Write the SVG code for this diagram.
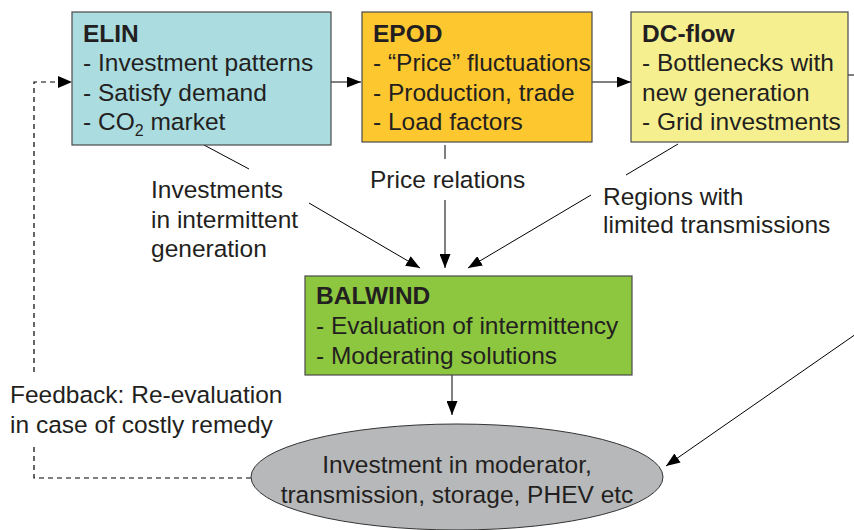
<svg xmlns="http://www.w3.org/2000/svg" width="854" height="530" viewBox="0 0 854 530">
<defs>
<marker id="ah" markerUnits="userSpaceOnUse" markerWidth="14" markerHeight="11" refX="14" refY="5.5" orient="auto">
<path d="M0,0 L14,5.5 L0,11 z" fill="#000"/>
</marker>
<style>
text{font-family:"Liberation Sans",Arial,sans-serif;font-size:24.5px;fill:#231f20}
.b{font-weight:bold}
.box{stroke:#4a4a4a;stroke-width:1.2}
.c{fill:none;stroke:#000;stroke-width:1}
.d{fill:none;stroke:#000;stroke-width:1.2;stroke-dasharray:5 4}
</style>
</defs>
<rect width="854" height="530" fill="#fff"/>
<g id="connectors">
<path class="c" d="M331,82 H361" marker-end="url(#ah)"/>
<path class="c" d="M592,82 H631" marker-end="url(#ah)"/>
<path class="c" d="M848,75 H854"/>
<path class="c" d="M204,145 L249,169"/>
<path class="c" d="M309,203 L420,268" marker-end="url(#ah)"/>
<path class="c" d="M445,145 V159"/>
<path class="c" d="M445,200 V268" marker-end="url(#ah)"/>
<path class="c" d="M678,144 L626,175"/>
<path class="c" d="M591,195 L468,268" marker-end="url(#ah)"/>
<path class="c" d="M452,375 V415" marker-end="url(#ah)"/>
<path class="c" d="M856,334 L666,466" marker-end="url(#ah)"/>
<path class="d" d="M251,478 H34 V447 M34,372 V82 H58"/>
<path d="M58,76 L72,82 L58,88 z" fill="#000"/>
</g>
<g id="elin">
<rect class="box" x="72" y="12" width="259" height="133" fill="#aadce0"/>
<text class="b" x="83" y="42">ELIN</text>
<text x="83" y="71">- Investment patterns</text>
<text x="83" y="101">- Satisfy demand</text>
<text x="83" y="130">- CO<tspan font-size="16" dy="6">2</tspan><tspan dy="-6"> market</tspan></text>
</g>
<g id="epod">
<rect class="box" x="362" y="12" width="230" height="130" fill="#fdc72f"/>
<text class="b" x="373" y="42">EPOD</text>
<text x="373" y="71">- “Price” fluctuations</text>
<text x="373" y="101">- Production, trade</text>
<text x="373" y="130">- Load factors</text>
</g>
<g id="dcflow">
<rect class="box" x="631" y="12" width="217" height="130" fill="#f6ef8f"/>
<text class="b" x="642" y="42">DC-flow</text>
<text x="642" y="71">- Bottlenecks with</text>
<text x="642" y="101">new generation</text>
<text x="642" y="130">- Grid investments</text>
</g>
<g id="labels">
<text x="151" y="198">Investments</text>
<text x="151" y="228">in intermittent</text>
<text x="151" y="257">generation</text>
<text x="370" y="188">Price relations</text>
<text x="603" y="205">Regions with</text>
<text x="603" y="233">limited transmissions</text>
<text x="10" y="403">Feedback: Re-evaluation</text>
<text x="10" y="433">in case of costly remedy</text>
</g>
<g id="balwind">
<rect class="box" x="305" y="276" width="327" height="99" fill="#8dc63f"/>
<text class="b" x="316" y="304">BALWIND</text>
<text x="316" y="334">- Evaluation of intermittency</text>
<text x="316" y="364">- Moderating solutions</text>
</g>
<g id="investment">
<ellipse cx="457" cy="477" rx="206" ry="53" fill="#b6b8ba" stroke="#333" stroke-width="1"/>
<text x="457" y="473" text-anchor="middle">Investment in moderator,</text>
<text x="457" y="503" text-anchor="middle">transmission, storage, PHEV etc</text>
</g>
</svg>
